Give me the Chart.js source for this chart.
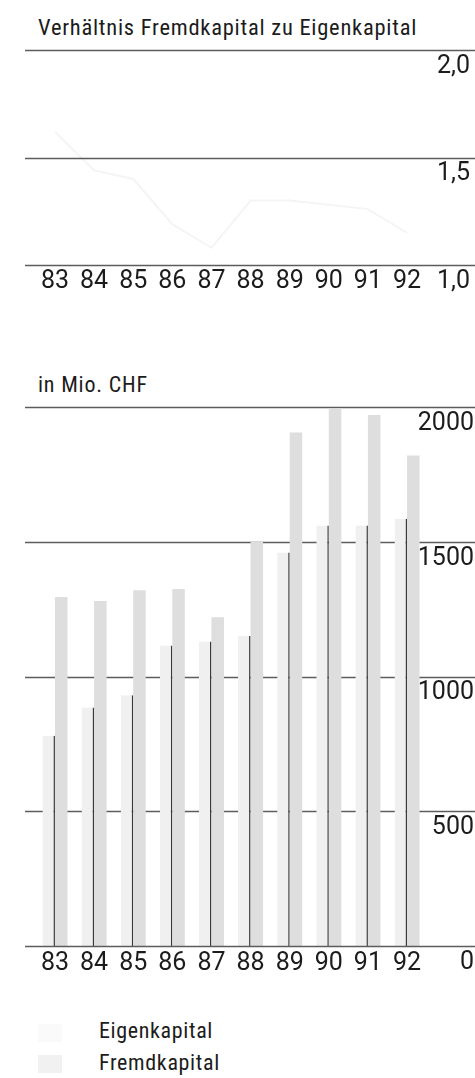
<!DOCTYPE html>
<html>
<head>
<meta charset="utf-8">
<script src="https://cdn.jsdelivr.net/npm/chart.js@4/dist/chart.umd.min.js"></script>
<style>
  body { margin: 0; background: #fff; }
  #page { position: relative; width: 475px; height: 1078px; overflow: hidden;
          font-family: Roboto, "Open Sans", sans-serif; font-stretch: semi-condensed; color: #1c1c1c; }
  .txt { position: absolute; white-space: nowrap; line-height: 1; }
  canvas { position: absolute; left: 0; }
  .sw { position: absolute; width: 24px; height: 18px; }
</style>
</head>
<body>
<div id="page">
  <div class="txt" style="left:38px; top:16.1px; font-size:22.5px; letter-spacing:0.75px;">Verhältnis Fremdkapital zu Eigenkapital</div>
  <canvas id="ratioChart" width="475" height="300" style="top:0px;"></canvas>

  <div class="txt" style="left:38px; top:373.5px; font-size:22px; letter-spacing:0.8px;">in Mio. CHF</div>
  <canvas id="capitalChart" width="475" height="601" style="top:380px;"></canvas>

  <div class="sw" style="left:38px; top:1024px; background:#fafafa;"></div>
  <div class="txt" style="left:99px; top:1019.5px; font-size:22px; letter-spacing:0.65px;">Eigenkapital</div>
  <div class="sw" style="left:38px; top:1055px; background:#f1f1f1;"></div>
  <div class="txt" style="left:99px; top:1051.5px; font-size:22px; letter-spacing:0.65px;">Fremdkapital</div>
</div>
<script>
var years = ['83', '84', '85', '86', '87', '88', '89', '90', '91', '92'];
var eigenkapital = [780, 885, 930, 1115, 1130, 1150, 1460, 1560, 1560, 1585];
var fremdkapital = [1295, 1280, 1320, 1325, 1220, 1500, 1905, 1995, 1970, 1820];
var verhaeltnis = [1.62, 1.44, 1.40, 1.19, 1.08, 1.30, 1.30, 1.28, 1.26, 1.15];
var ratioTicks = [1.0, 1.5, 2.0];
var capitalTicks = [0, 500, 1000, 1500, 2000];

var FONT = 'Roboto, "Open Sans", sans-serif';
var GRID_LEFT = 25;
var GRID_COLOR = '#5c5c5c';

// horizontal rules over the full width; bars are drawn on top of them
var rules = {
    id: 'rules',
    beforeDatasetsDraw: function(chart) { drawRules(chart, false); },
    afterDatasetsDraw: function(chart) { drawRules(chart, true); }
};

function drawRules(chart, baseOnly) {
    var ctx = chart.ctx;
    var scale = chart.scales.y;
    var ticks = chart.options.plugins.rules.values;
    ctx.save();
    ctx.strokeStyle = GRID_COLOR;
    ctx.lineWidth = 1.5;
    for (var i = 0; i < ticks.length; i++) {
        var isBase = (ticks[i] === scale.min);
        if (isBase !== baseOnly) continue;
        var y = Math.round(scale.getPixelForValue(ticks[i])) + 0.5;
        ctx.beginPath();
        ctx.moveTo(GRID_LEFT, y);
        ctx.lineTo(chart.width, y);
        ctx.stroke();
    }
    ctx.restore();
}

function xAxis(pad) {
    return {
        offset: true,
        grid: { display: false, drawTicks: false },
        border: { display: false },
        ticks: { color: '#1c1c1c', font: { family: FONT, size: 25, style: 'semi-condensed' }, padding: pad, maxRotation: 0 },
        afterFit: function(s) { s.height = 35; }
    };
}

// right axis, labels right-aligned under each rule (mirror avoids clipping)
function yAxis(min, max, step, pad, fmt) {
    return {
        position: 'right',
        min: min, max: max,
        grid: { display: false, drawTicks: false },
        border: { display: false },
        ticks: {
            stepSize: step, color: '#1c1c1c', mirror: true, crossAlign: 'near', padding: pad,
            labelOffset: 16.5,
            font: { family: FONT, size: 25, style: 'semi-condensed' },
            callback: fmt
        },
        afterFit: function(s) {
            s.width = 48.4;
            s.paddingTop = 0; s.paddingBottom = 0;
            s.paddingLeft = 0; s.paddingRight = 0;
        }
    };
}

new Chart(document.getElementById('ratioChart'), {
    type: 'line',
    data: {
        labels: years,
        datasets: [{
            label: 'Verhältnis Fremdkapital zu Eigenkapital',
            data: verhaeltnis,
            borderColor: 'rgba(0,0,0,0.045)',
            borderWidth: 2,
            pointRadius: 0,
            tension: 0
        }]
    },
    options: {
        responsive: false,
        animation: false,
        layout: { padding: { left: 35.4, top: 50, right: 0, bottom: 0 } },
        plugins: { legend: { display: false }, tooltip: { enabled: false }, rules: { values: ratioTicks } },
        scales: {
            x: xAxis(1.5),
            y: yAxis(1, 2, 0.5, 43.4, function(v) { return v.toFixed(1).replace('.', ','); })
        }
    },
    plugins: [rules]
});

new Chart(document.getElementById('capitalChart'), {
    type: 'bar',
    data: {
        labels: years,
        datasets: [{
            label: 'Eigenkapital',
            data: eigenkapital,
            backgroundColor: '#f0f0f0',
            borderColor: '#3a3a3a',
            borderWidth: { top: 0, left: 0, bottom: 0, right: 1.5 },
            borderSkipped: false
        }, {
            label: 'Fremdkapital',
            data: fremdkapital,
            backgroundColor: '#dedede',
            borderWidth: 0
        }]
    },
    options: {
        responsive: false,
        animation: false,
        datasets: { bar: { categoryPercentage: 0.64, barPercentage: 1.0 } },
        layout: { padding: { left: 35.4, top: 27, right: 0, bottom: 0 } },
        plugins: { legend: { display: false }, tooltip: { enabled: false }, rules: { values: capitalTicks } },
        scales: {
            x: xAxis(2.5),
            y: yAxis(0, 2000, 500, 47.4, function(v) { return String(v); })
        }
    },
    plugins: [rules]
});
</script>
</body>
</html>
